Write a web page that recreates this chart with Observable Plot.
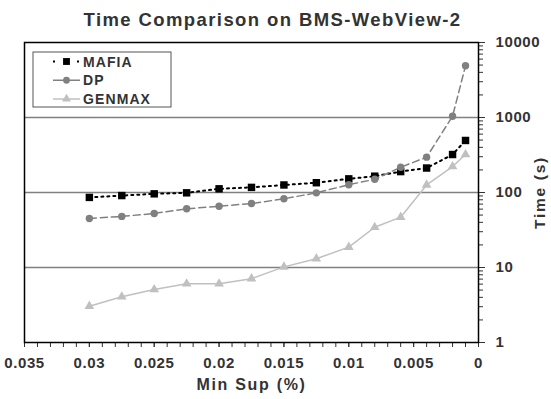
<!DOCTYPE html>
<html><head><meta charset="utf-8">
<script src="https://cdn.jsdelivr.net/npm/d3@7"></script>
<script src="https://cdn.jsdelivr.net/npm/@observablehq/plot@0.6"></script>
<style>
body{margin:0;background:#fff}
#chart{width:551px;height:399px}
svg text{font-family:"Liberation Sans",Arial,sans-serif;font-weight:bold;letter-spacing:0.6px}
</style>
</head><body><div id="chart"></div>
<script>
const minSup = [0.03,0.0275,0.025,0.0225,0.02,0.0175,0.015,0.0125,0.01,0.008,0.006,0.004,0.002,0.001];
const mafia = [86,91,96,99,112,117,126,135,152,165,190,212,321,494];
const dp = [45,48,52.5,60.6,65.6,71.3,82.4,99,127,150,217,296,1040,4890];
const genmax = [3.05,4.07,5.09,6.06,6.06,7.1,10.2,13.1,18.7,34.4,46.9,126,222,321];
const seriesNames = ["MAFIA","DP","GENMAX"];
const xTicks = [0.035,0.03,0.025,0.02,0.015,0.01,0.005,0];
const yTicks = [1,10,100,1000,10000];
const gridValues = [10,100,1000];
const title = "Time Comparison on BMS-WebView-2";
const xLabel = "Min Sup (%)";
const yLabel = "Time (s)";

const styles = {
  MAFIA: {stroke:"#000", dash:"2,4", legendDash:"2,22", symbol:"square", r:4.2, fill:"#000", width:2},
  DP: {stroke:"#808080", dash:"7,4", legendDash:null, symbol:"circle", r:3.7, fill:"#808080", width:1.5},
  GENMAX: {stroke:"#c0c0c0", dash:null, legendDash:null, symbol:"triangle", r:3.6, fill:"#c0c0c0", width:1.5}
};
const valuesBySeries = {MAFIA: mafia, DP: dp, GENMAX: genmax};
const data = seriesNames.flatMap(s => minSup.map((x,i) => ({series:s, x, y:valuesBySeries[s][i]})));

const minorX = d3.range(0, 36).map(i => +(i*0.001).toFixed(3));
const minorY = yTicks.slice(0,-1).flatMap(d => d3.range(2,10).map(k => k*d));

const txt = "#333";
const marks = [
  Plot.ruleY(gridValues, {stroke:"#808080", strokeWidth:1.5}),
  Plot.axisX({ticks: minorX, tickSize:5, tickFormat: () => "", stroke:"#333", label:null}),
  Plot.axisX({ticks: xTicks, tickSize:5, tickPadding:10, tickFormat: d => d === 0 ? "0" : String(+d.toFixed(3)), fontSize:15, fill:txt, label:null, stroke:"#333"}),
  Plot.axisY({anchor:"right", ticks: minorY, tickSize:4, tickFormat: () => "", stroke:"#333", label:null}),
  Plot.axisY({anchor:"right", ticks: yTicks, tickSize:6, tickPadding:11, tickFormat: d => String(d), fontSize:15, fill:txt, label:null, stroke:"#333"}),
];
for (const s of seriesNames) {
  const st = styles[s];
  const d = data.filter(o => o.series === s);
  marks.push(Plot.line(d, {x:"x", y:"y", stroke:st.stroke, strokeWidth:st.width, strokeDasharray:st.dash}));
  marks.push(Plot.dot(d, {x:"x", y:"y", symbol:st.symbol, r:st.r, fill:st.fill, stroke:"none"}));
}
marks.push(Plot.frame({stroke:"#000", strokeWidth:1.5}));
marks.push(Plot.text([title], {frameAnchor:"top", lineAnchor:"middle", textAnchor:"middle", dy:-22, dx:21, fontSize:18.5, fill:txt, fontWeight:"bold"}));
marks.push(Plot.text([xLabel], {frameAnchor:"bottom", lineAnchor:"middle", textAnchor:"middle", dy:42, dx:0, fontSize:16, fill:txt, fontWeight:"bold"}));
marks.push(Plot.text([yLabel], {frameAnchor:"right", lineAnchor:"middle", textAnchor:"middle", dx:62, rotate:-90, fontSize:15.5, fill:txt, fontWeight:"bold"}));

const plot = Plot.plot({
  width:551, height:399,
  marginLeft:24, marginRight:73, marginTop:42, marginBottom:57,
  style:{fontFamily:"'Liberation Sans', Arial, sans-serif", background:"#fff", overflow:"visible"},
  x:{domain:[0.035,0], axis:null},
  y:{type:"log", domain:[1,10000], axis:null},
  marks
});
document.getElementById("chart").appendChild(plot);

const svg = d3.select(plot);
svg.selectAll("text").each(function(){
  const t = this.textContent;
  if (t === title) this.style.letterSpacing = "1.4px";
  else if (t === xLabel || t === yLabel) this.style.letterSpacing = "1.7px";
});

// legend
const lg = svg.append("g").attr("transform","translate(33,52)");
lg.append("rect").attr("width",138).attr("height",55).attr("fill","#fff").attr("stroke","#555").attr("stroke-width",1);
seriesNames.forEach((s,i) => {
  const st = styles[s];
  const y = 9.5 + i*18.75;
  lg.append("line").attr("x1",20).attr("x2",47).attr("y1",y).attr("y2",y)
    .attr("stroke",st.stroke).attr("stroke-width",st.width).attr("stroke-dasharray", st.legendDash);
  const sym = {square:d3.symbolSquare, circle:d3.symbolCircle, triangle:d3.symbolTriangle}[st.symbol];
  lg.append("path").attr("d", d3.symbol(sym, Math.PI*st.r*st.r*0.85)()).attr("transform",`translate(33.5,${y})`).attr("fill",st.fill);
  lg.append("text").attr("x",50).attr("y",y).attr("dy","0.36em").attr("text-anchor","start")
    .attr("font-size",14).attr("fill",txt).style("letter-spacing","1.1px").text(s);
});
</script>
</body></html>
